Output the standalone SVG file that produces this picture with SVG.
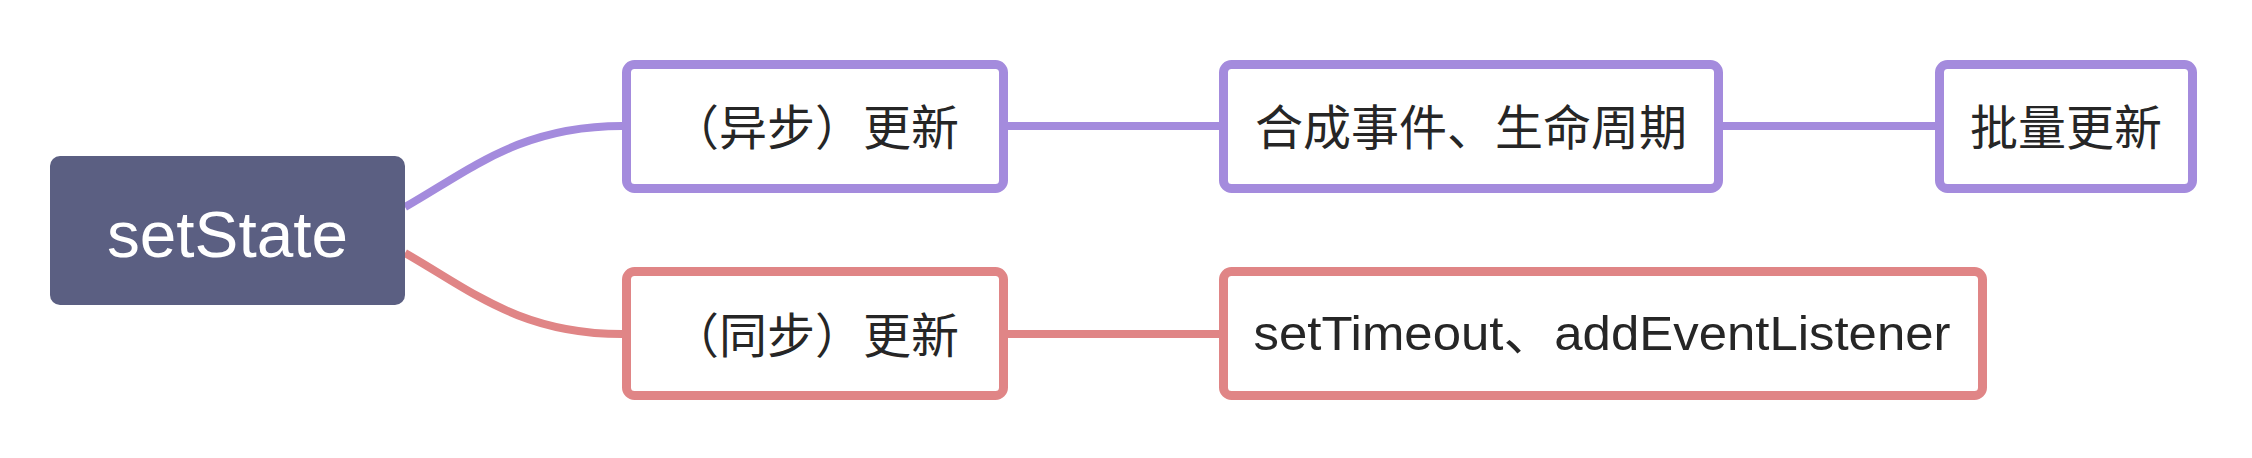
<svg xmlns="http://www.w3.org/2000/svg" width="2252" height="458" viewBox="0 0 2252 458">
  <style>
    .bg { fill: #ffffff; }
    .link { fill: none; stroke-width: 8; stroke-linecap: butt; }
    .purple { stroke: #A48BDD; }
    .red { stroke: #E08586; }
    .box { fill: #ffffff; stroke-width: 9; }
    .label { font-family: "Liberation Sans", "Noto Sans CJK SC", sans-serif; font-size: 48px; fill: #262626; text-anchor: middle; }
    .root-label { font-family: "Liberation Sans", "Noto Sans CJK SC", sans-serif; font-size: 64px; fill: #ffffff; text-anchor: middle; }
  </style>
  <rect class="bg" x="0" y="0" width="2252" height="458"/>
  <g id="connectors">
    <path class="link purple" d="M405,207 C470,170 520,126 622,126"/>
    <path class="link red" d="M405,253 C470,290 520,334 622,334"/>
    <path class="link purple" d="M1008,126 L1219,126"/>
    <path class="link purple" d="M1723,126 L1935,126"/>
    <path class="link red" d="M1008,334 L1219,334"/>
  </g>
  <g id="node-root">
    <rect x="50" y="156" width="355" height="149" rx="10" fill="#5B5F82"/>
    <text class="root-label" x="227.5" y="257" textLength="241" lengthAdjust="spacingAndGlyphs">setState</text>
  </g>
  <g id="node-async">
    <rect class="box purple" x="626.5" y="64.5" width="377" height="124" rx="8"/>
    <text class="label" x="815" y="145">（异步）更新</text>
  </g>
  <g id="node-synthetic">
    <rect class="box purple" x="1223.5" y="64.5" width="495" height="124" rx="8"/>
    <text class="label" x="1471" y="145">合成事件、生命周期</text>
  </g>
  <g id="node-batch">
    <rect class="box purple" x="1939.5" y="64.5" width="253" height="124" rx="8"/>
    <text class="label" x="2066" y="145">批量更新</text>
  </g>
  <g id="node-sync">
    <rect class="box red" x="626.5" y="271.5" width="377" height="124" rx="8"/>
    <text class="label" x="815" y="353">（同步）更新</text>
  </g>
  <g id="node-timeout">
    <rect class="box red" x="1223.5" y="271.5" width="759" height="124" rx="8"/>
    <text class="label" x="1602" y="350" textLength="697" lengthAdjust="spacingAndGlyphs">setTimeout、addEventListener</text>
  </g>
</svg>
